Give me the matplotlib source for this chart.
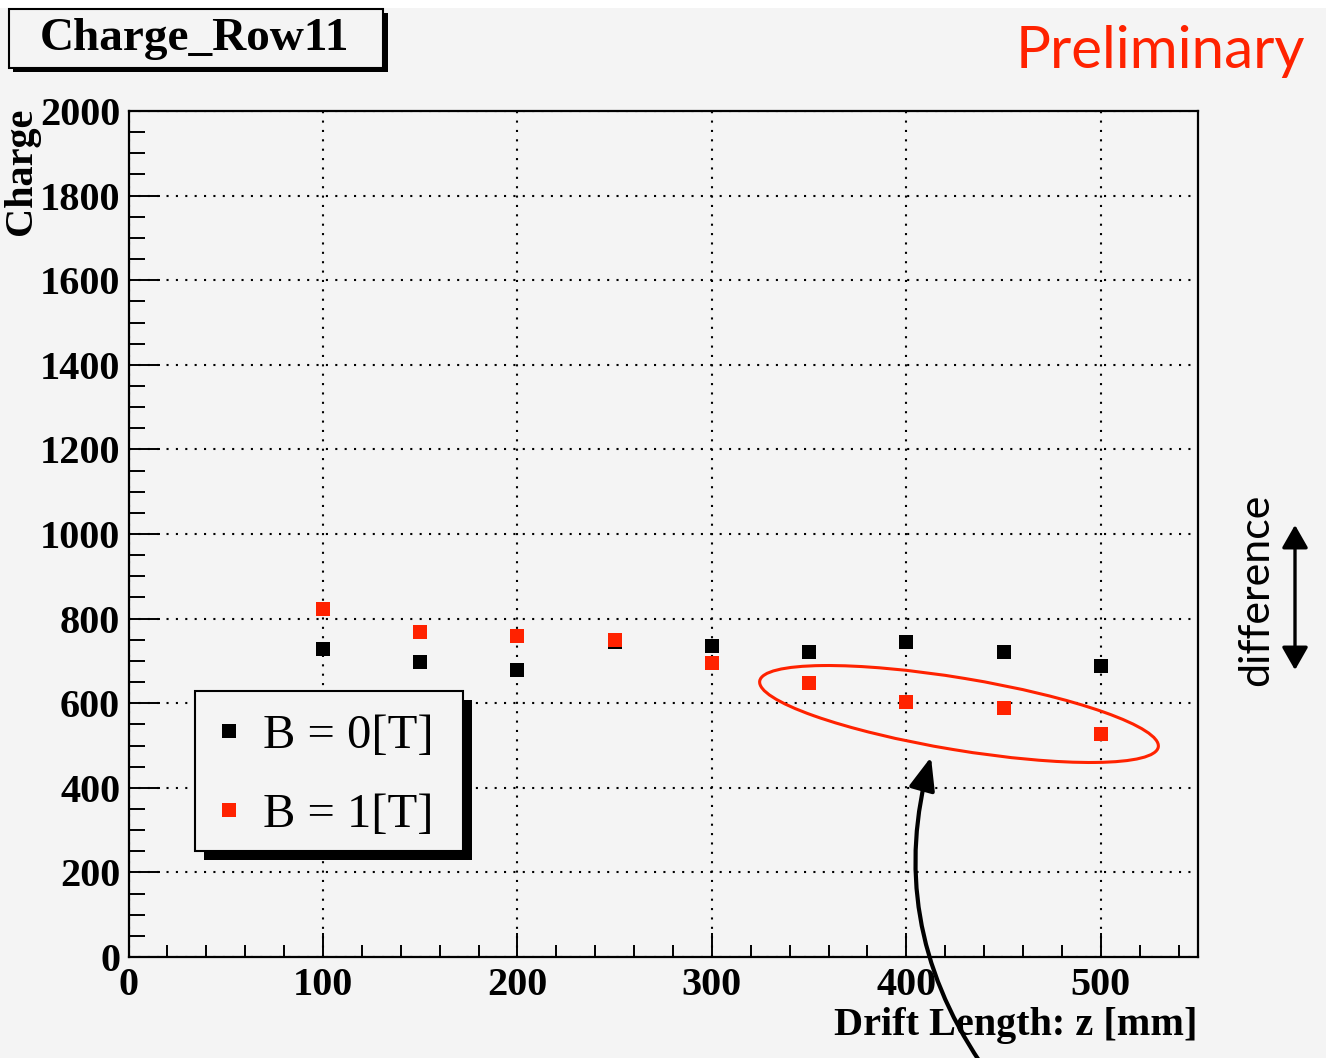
import matplotlib
matplotlib.use("Agg")
import matplotlib.pyplot as plt
from matplotlib.patches import Rectangle, Ellipse, FancyArrowPatch
from matplotlib.lines import Line2D
from matplotlib.transforms import Affine2D
from matplotlib.ticker import MultipleLocator

# Drift length [mm] and measured charge for the two field settings
z_mm = [100, 150, 200, 250, 300, 350, 400, 450, 500]
charge_b0 = [729, 698, 678, 745, 735, 722, 745, 722, 688]
charge_b1 = [823, 769, 758, 750, 695, 648, 602, 589, 528]
series_labels = ["B = 0[T]", "B = 1[T]"]
title_text = "Charge_Row11"
xlabel_text = "Drift Length: z [mm]"
ylabel_text = "Charge"

W, H, DPI = 1327, 1058, 100
RED = "#ff2200"
BG = "#f4f4f4"
SERIF = ["Liberation Serif", "DejaVu Serif"]
SANS = ["Lato", "DejaVu Sans"]

fig = plt.figure(figsize=(W / DPI, H / DPI), dpi=DPI, facecolor="white")
# pixel coordinates measured from the top-left corner
px = Affine2D().scale(1, -1).translate(0, H).scale(1 / DPI) + fig.dpi_scale_trans

fig.patches.append(Rectangle((0, 8), 1326, H - 8, transform=px,
                             facecolor=BG, edgecolor="none", zorder=-10))

x0, x1, y0, y1 = 128.5, 1198, 111, 957
ax = fig.add_axes([x0 / W, (H - y1) / H, (x1 - x0) / W, (y1 - y0) / H])
ax.set_facecolor(BG)
ax.set_xlim(0, 550)
ax.set_ylim(0, 2000)

ax.xaxis.set_major_locator(MultipleLocator(100))
ax.xaxis.set_minor_locator(MultipleLocator(20))
ax.yaxis.set_major_locator(MultipleLocator(200))
ax.yaxis.set_minor_locator(MultipleLocator(50))

for s in ax.spines.values():
    s.set_linewidth(1.6)
    s.set_color("black")

ax.tick_params(axis="x", which="major", direction="in", length=17.3, width=1.4,
               pad=7, top=False)
ax.tick_params(axis="x", which="minor", direction="in", length=8.6, width=1.4, top=False)
ax.tick_params(axis="y", which="major", direction="in", length=22.3, width=1.4,
               pad=6, right=False)
ax.tick_params(axis="y", which="minor", direction="in", length=11.5, width=1.4, right=False)
for lab in ax.get_xticklabels() + ax.get_yticklabels():
    lab.set_fontfamily(SERIF)
    lab.set_fontweight("bold")
    lab.set_fontsize(29)

ax.grid(True, which="major", color="black", linestyle=(0, (1, 3.5)), linewidth=1.5)
ax.set_axisbelow(True)

ax.plot(z_mm, charge_b0, linestyle="none", marker="s", markersize=9.6,
        markerfacecolor="black", markeredgewidth=0, zorder=3)
ax.plot(z_mm, charge_b1, linestyle="none", marker="s", markersize=9.6,
        markerfacecolor=RED, markeredgewidth=0, zorder=4)

# axis titles
fig.text(1198 / W, (H - 1035) / H, xlabel_text, ha="right", va="baseline",
         fontsize=29, fontweight="bold", family=SERIF)
fig.text(22 / W, (H - 108) / H, ylabel_text, ha="center", va="top", rotation=90,
         fontsize=29, fontweight="bold", family=SERIF)

# title box with shadow
fig.patches.append(Rectangle((13, 13), 375, 59, transform=px, facecolor="black",
                             edgecolor="none", zorder=1))
fig.patches.append(Rectangle((9, 9), 374, 59, transform=px, facecolor=BG,
                             edgecolor="black", linewidth=1.5, zorder=2))
fig.text(195 / W, (H - 50) / H, title_text, ha="center", va="baseline",
         fontsize=34, fontweight="bold", family=SERIF, zorder=3)

# legend box with shadow
fig.patches.append(Rectangle((204, 700), 268, 160, transform=px, facecolor="black",
                             edgecolor="none", zorder=5))
fig.patches.append(Rectangle((195, 691), 268, 160, transform=px, facecolor=BG,
                             edgecolor="black", linewidth=1.5, zorder=6))
for yy, col, lab in [(731, "black", series_labels[0]), (810, RED, series_labels[1])]:
    fig.lines.append(Line2D([229], [yy], transform=px, linestyle="none", marker="s",
                            markersize=9.6, markerfacecolor=col, markeredgewidth=0,
                            zorder=7))
    fig.text(263 / W, (H - yy) / H, lab, ha="left", va="center_baseline",
             fontsize=35, family=SERIF, zorder=7)

# annotations
fig.text(1305 / W, (H - 68) / H, "Preliminary", ha="right", va="baseline",
         fontsize=42, color=RED, family=SANS)
fig.text(1256 / W, (H - 590) / H, "difference", ha="center", va="center",
         rotation=90, fontsize=31, family=SANS)
fig.patches.append(FancyArrowPatch((1295, 525), (1295, 670), transform=px,
                                   arrowstyle="<|-|>,head_length=14,head_width=8",
                                   linewidth=2.4, color="black",
                                   shrinkA=0, shrinkB=0, zorder=8))
fig.patches.append(Ellipse((959, 714), 404, 72, angle=9.4, transform=px,
                           facecolor="none", edgecolor=RED, linewidth=2.2, zorder=8))
fig.patches.append(FancyArrowPatch((980, 1062), (931, 757), transform=px,
                                   connectionstyle="arc3,rad=-0.23",
                                   arrowstyle="-|>,head_length=20,head_width=8",
                                   linewidth=3, color="black",
                                   shrinkA=0, shrinkB=0, zorder=8))

fig.savefig("out.png", dpi=DPI, facecolor=fig.get_facecolor())
